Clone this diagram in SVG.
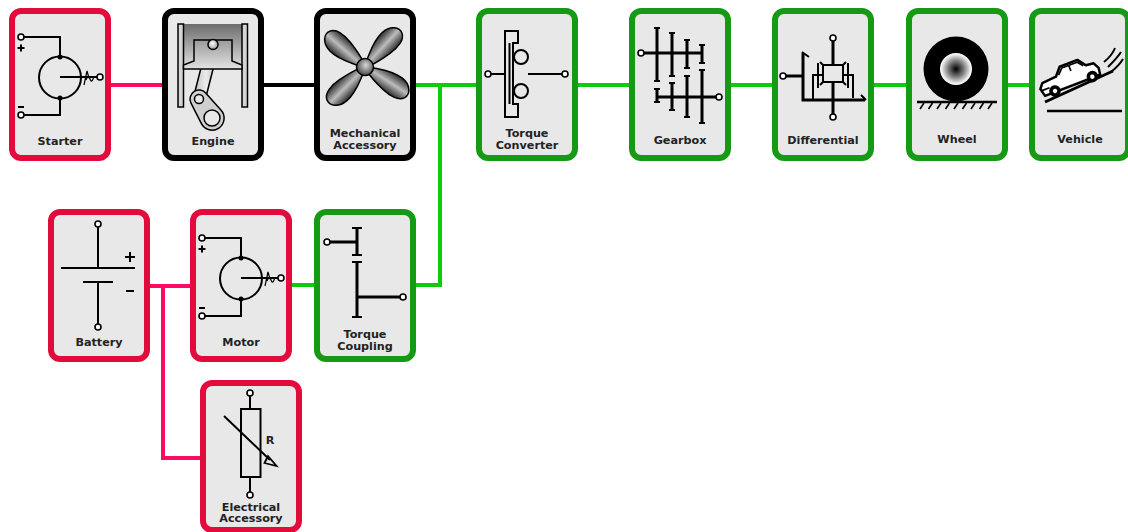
<svg xmlns="http://www.w3.org/2000/svg" width="1128" height="532" viewBox="0 0 1128 532">
  <style>
    .box { fill: #e8e8e8; stroke-width: 6; }
    .red { stroke: #e30b3c; }
    .blk { stroke: #000; }
    .grn { stroke: #169a16; }
    .lbl { font-family: "DejaVu Sans", Verdana, sans-serif; font-weight: bold; font-size: 11.2px; fill: #222; text-anchor: middle; }
    .sym { fill: none; stroke: #000; stroke-width: 2; }
    .thick { fill: none; stroke: #000; stroke-width: 3; }
    .cap { fill: none; stroke: #000; stroke-width: 2; }
    .term { fill: #fff; stroke: #000; stroke-width: 1.6; }
    .dot { fill: #000; }
    .w-red { fill: none; stroke: #ff0a64; stroke-width: 4; }
    .w-blk { fill: none; stroke: #000; stroke-width: 4; }
    .w-grn { fill: none; stroke: #0ccc0c; stroke-width: 4; }
    .part { stroke: #000; stroke-width: 1.5; }
  </style>
  <defs>
    <linearGradient id="cylGrad" x1="0" y1="0" x2="0" y2="1">
      <stop offset="0" stop-color="#6c6c6c"/>
      <stop offset="1" stop-color="#dcdcdc"/>
    </linearGradient>
    <linearGradient id="pistonGrad" x1="0" y1="0" x2="0" y2="1">
      <stop offset="0" stop-color="#9a9a9a"/>
      <stop offset="1" stop-color="#e2e2e2"/>
    </linearGradient>
    <linearGradient id="steelGrad" x1="0" y1="0" x2="1" y2="0">
      <stop offset="0" stop-color="#bdbdbd"/>
      <stop offset="0.5" stop-color="#ececec"/>
      <stop offset="1" stop-color="#b0b0b0"/>
    </linearGradient>
    <radialGradient id="pinGrad" cx="0.45" cy="0.4" r="0.6">
      <stop offset="0" stop-color="#ffffff"/>
      <stop offset="1" stop-color="#9a9a9a"/>
    </radialGradient>
    <linearGradient id="bladeGrad" x1="0" y1="0" x2="0" y2="1">
      <stop offset="0" stop-color="#2c2c2c"/>
      <stop offset="0.5" stop-color="#bcbcbc"/>
      <stop offset="1" stop-color="#2c2c2c"/>
    </linearGradient>
    <radialGradient id="hubGrad" cx="0.55" cy="0.4" r="0.65">
      <stop offset="0" stop-color="#d8d8d8"/>
      <stop offset="1" stop-color="#3a3a3a"/>
    </radialGradient>
    <radialGradient id="wheelGrad" cx="0.5" cy="0.5" r="0.5">
      <stop offset="0" stop-color="#000"/>
      <stop offset="0.55" stop-color="#8a8a8a"/>
      <stop offset="0.9" stop-color="#eeeeee"/>
      <stop offset="1" stop-color="#ffffff"/>
    </radialGradient>
    <path id="blade" d="M5,-3 C14,-6 24,-12 37,-11 C48,-10 53,-2 50,4 C47,10 37,11 27,9 C17,7 10,5 5,3 Z"/>
    <!-- DC machine symbol shared by starter and motor -->
    <g id="dcMachine">
      <path class="sym" d="M24,37 H60 V57"/>
      <circle class="term" cx="21" cy="37" r="3"/>
      <path class="cap" d="M17.5,48 H24.5 M21,44.5 V51.5"/>
      <circle class="sym" cx="60" cy="77.5" r="21"/>
      <circle class="dot" cx="60" cy="57" r="2.5"/>
      <circle class="dot" cx="60" cy="98" r="2.5"/>
      <path class="sym" d="M60,98 V115 H24"/>
      <circle class="term" cx="21" cy="115" r="3"/>
      <path class="cap" d="M18,107 H24"/>
      <path class="sym" d="M60,77 H97"/>
      <circle class="term" cx="100" cy="77" r="3"/>
      <path fill="none" stroke="#000" stroke-width="1.2" d="M84,85 L87,71 L89,78 M86,80 C87.5,76 89,76 90,79 C91,82 92,82 93.5,78"/>
    </g>
  </defs>

  <!-- connectors -->
  <g id="connectors">
    <path class="w-red" d="M111,85 H162"/>
    <path class="w-blk" d="M263,85 H314"/>
    <path class="w-grn" d="M416,85 H476 M440,85 V285 H416"/>
    <path class="w-grn" d="M578,85 H629"/>
    <path class="w-grn" d="M731,85 H772"/>
    <path class="w-grn" d="M874,85 H906"/>
    <path class="w-grn" d="M1008,85 H1029"/>
    <path class="w-red" d="M150,286 H190 M163,286 V458 H200"/>
    <path class="w-grn" d="M292,285 H314"/>
  </g>

  <!-- starter -->
  <g id="starter">
    <rect class="box red" x="12" y="11" width="96" height="147" rx="9"/>
    <use href="#dcMachine"/>
    <text class="lbl" x="60" y="145">Starter</text>
  </g>

  <!-- engine -->
  <g id="engine">
    <rect class="box blk" x="165" y="11" width="96" height="147" rx="9"/>
    <rect x="183.5" y="24" width="58.5" height="42" fill="url(#cylGrad)"/>
    <rect class="part" x="178" y="24" width="5.5" height="83" fill="#d4d4d4"/>
    <rect class="part" x="242" y="24" width="5.5" height="83" fill="#d4d4d4"/>
    <polygon class="part" points="218.8,46.5 204.8,101.5 193.2,98.5 207.2,43.5" fill="url(#steelGrad)"/>
    <polygon class="part" points="194,40 232,40 232,61 242,65 242,69 183.5,69 183.5,65 194,61" fill="url(#pistonGrad)"/>
    <circle class="part" cx="213" cy="44.5" r="5" fill="url(#pinGrad)"/>
    <path class="part" fill="#cfcfcf" d="M205.7,93 L220.9,110 A12,12 0 1 1 201.3,123.4 L191,103.1 A9,9 0 0 1 205.7,93 Z"/>
    <circle class="part" cx="199" cy="99" r="4.5" fill="#e8e8e8"/>
    <circle class="part" cx="212" cy="118" r="8" fill="#e8e8e8"/>
    <text class="lbl" x="213" y="145">Engine</text>
  </g>

  <!-- mechanical accessory (fan) -->
  <g id="mechanical-accessory">
    <rect class="box blk" x="317" y="11" width="96" height="147" rx="9"/>
    <g transform="translate(365,67)" stroke="#000" stroke-width="1.5" fill="url(#bladeGrad)">
      <use href="#blade" transform="rotate(-139)"/>
      <use href="#blade" transform="rotate(-47)"/>
      <use href="#blade" transform="rotate(33)"/>
      <use href="#blade" transform="rotate(135)"/>
      <circle r="8.5" fill="url(#hubGrad)"/>
    </g>
    <text class="lbl" x="365" y="137">Mechanical</text>
    <text class="lbl" x="365" y="148.5">Accessory</text>
  </g>

  <!-- torque converter -->
  <g id="torque-converter">
    <rect class="box grn" x="479" y="11" width="96" height="147" rx="9"/>
    <circle class="term" cx="488" cy="74" r="3"/>
    <path class="sym" d="M491,74 H505"/>
    <path class="sym" d="M505,31 H518 V43 H513 V104 H518 V117 H505 Z M509.5,43 V104"/>
    <circle class="sym" cx="521" cy="57" r="7"/>
    <circle class="sym" cx="521" cy="91" r="7"/>
    <path class="sym" d="M528,74 H562"/>
    <circle class="term" cx="565" cy="74" r="3"/>
    <text class="lbl" x="527" y="137">Torque</text>
    <text class="lbl" x="527" y="148.5">Converter</text>
  </g>

  <!-- gearbox -->
  <g id="gearbox">
    <rect class="box grn" x="632" y="11" width="96" height="147" rx="9"/>
    <path class="thick" d="M644,53 H702"/>
    <circle class="term" cx="641" cy="53" r="3"/>
    <path class="thick" d="M657,28 V81 M672,33 V76 M687,40 V68 M702,45 V63"/>
    <path class="cap" d="M654,28 H660 M654,81 H660 M669,33 H675 M669,76 H675 M684,40 H690 M684,68 H690 M699,45 H705 M699,63 H705"/>
    <path class="thick" d="M657,97 H716"/>
    <circle class="term" cx="719" cy="97" r="3"/>
    <path class="thick" d="M657,89 V102 M672,83 V110 M687,76 V117 M702,70 V123"/>
    <path class="cap" d="M654,89 H660 M654,102 H660 M669,83 H675 M669,110 H675 M684,76 H690 M684,117 H690 M699,70 H705 M699,123 H705"/>
    <text class="lbl" x="680" y="144">Gearbox</text>
  </g>

  <!-- differential -->
  <g id="differential">
    <rect class="box grn" x="775" y="11" width="96" height="147" rx="9"/>
    <circle class="term" cx="833" cy="38" r="3"/>
    <path class="thick" d="M833,41 V65"/>
    <rect class="sym" x="823" y="65" width="20" height="17" stroke-width="2.5"/>
    <path class="cap" d="M820,62 L824,66 M846,62 L842,66 M820,85 L824,81 M846,85 L842,81"/>
    <path class="thick" d="M833,82 V114"/>
    <circle class="term" cx="833" cy="117" r="3"/>
    <circle class="term" cx="783" cy="76" r="3"/>
    <path class="thick" d="M786,76 H803"/>
    <path class="thick" d="M803,53 V100 H865"/>
    <path class="cap" d="M802,52 L809,57 M866,100 L861,95"/>
    <path class="sym" stroke-width="2.5" d="M813,100 V75 H823 M843,75 H853 V98"/>
    <path class="sym" stroke-width="2.5" d="M818,88 V63 M848,88 V63"/>
    <text class="lbl" x="823" y="144">Differential</text>
  </g>

  <!-- wheel -->
  <g id="wheel">
    <rect class="box grn" x="909" y="11" width="96" height="147" rx="9"/>
    <circle cx="956" cy="69" r="32.5" fill="#000"/>
    <circle cx="956" cy="69" r="16" fill="url(#wheelGrad)"/>
    <path stroke="#000" stroke-width="2.5" d="M917,102 H997"/>
    <path stroke="#000" stroke-width="1.6" fill="none" d="M924,103 L920,109 M932.5,103 L928.5,109 M941,103 L937,109 M949.5,103 L945.5,109 M958,103 L954,109 M966.5,103 L962.5,109 M975,103 L971,109 M983.5,103 L979.5,109 M992,103 L988,109"/>
    <text class="lbl" x="957" y="143">Wheel</text>
  </g>

  <!-- vehicle -->
  <g id="vehicle">
    <rect class="box grn" x="1032" y="11" width="96" height="147" rx="9"/>
    <path stroke="#000" stroke-width="3" d="M1045,102 L1113,71"/>
    <path stroke="#000" stroke-width="2.5" d="M1047,111 H1122"/>
    <g transform="translate(1055,91) rotate(-21)">
      <path fill="#fff" stroke="#000" stroke-width="2.5" stroke-linejoin="round" d="M-11,1 L-13,-7 L-9,-12 L6,-13 L13,-21 L32,-21 L38,-13 L46,-12 L49,-6 L48,1 Z"/>
      <path fill="none" stroke="#000" stroke-width="1.7" d="M9,-13.5 L14.5,-19 H31 L35.5,-13.5 M22,-19 V-13 M-12,-5 H-4"/>
      <circle r="5.8" fill="#000"/>
      <circle r="2.2" fill="#fff"/>
      <circle cx="40" r="5.8" fill="#000"/>
      <circle cx="40" r="2.2" fill="#fff"/>
    </g>
    <path fill="none" stroke="#000" stroke-width="2" d="M1104,62 C1109,58 1113,53 1115,48 M1108,67 C1113,62 1118,57 1121,52 M1111,72 C1116,68 1120,64 1123,59"/>
    <text class="lbl" x="1080" y="143">Vehicle</text>
  </g>

  <!-- battery -->
  <g id="battery">
    <rect class="box red" x="51" y="212" width="96" height="147" rx="9"/>
    <circle class="term" cx="98" cy="224" r="3"/>
    <path class="sym" d="M98,227 V268 M61,268 H135 M83,282 H113 M98,282 V324"/>
    <circle class="term" cx="98" cy="327" r="3"/>
    <path class="cap" d="M125,257 H135 M130,252 V262 M126,291 H134"/>
    <text class="lbl" x="99" y="345.5">Battery</text>
  </g>

  <!-- motor -->
  <g id="motor">
    <rect class="box red" x="193" y="212" width="96" height="147" rx="9"/>
    <use href="#dcMachine" transform="translate(181,201)"/>
    <text class="lbl" x="241" y="345.5">Motor</text>
  </g>

  <!-- torque coupling -->
  <g id="torque-coupling">
    <rect class="box grn" x="317" y="212" width="96" height="147" rx="9"/>
    <circle class="term" cx="327" cy="242" r="3"/>
    <path class="thick" d="M330,242 H357 M357,228 V255 M357,262 V317 M357,297 H400"/>
    <path class="cap" d="M352,228 H362 M352,255 H362 M352,262 H362 M352,317 H362"/>
    <circle class="term" cx="403" cy="297" r="3"/>
    <text class="lbl" x="365" y="338">Torque</text>
    <text class="lbl" x="365" y="349.5">Coupling</text>
  </g>

  <!-- electrical accessory -->
  <g id="electrical-accessory">
    <rect class="box red" x="203" y="383" width="96" height="147" rx="9"/>
    <circle class="term" cx="250" cy="393" r="3"/>
    <path class="sym" d="M250,396 V409 M250,477 V492"/>
    <rect class="sym" x="241" y="409" width="19.5" height="68"/>
    <circle class="term" cx="250" cy="495" r="3"/>
    <path class="sym" d="M224,416 L270,460"/>
    <path fill="none" stroke="#000" stroke-width="1.8" d="M268,456 L276.5,466 L264.5,463 Z"/>
    <text class="lbl" x="270" y="444">R</text>
    <text class="lbl" x="251" y="510.5">Electrical</text>
    <text class="lbl" x="251" y="522">Accessory</text>
  </g>
</svg>
